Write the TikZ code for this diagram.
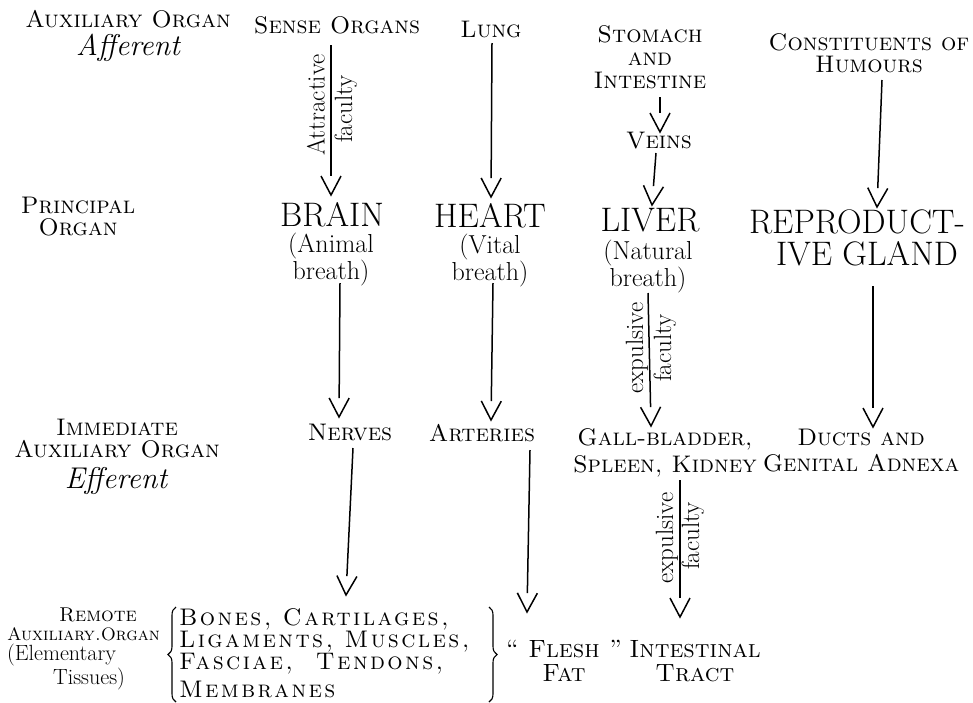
\documentclass[tikz,border=0pt]{standalone}
\usepackage{fontspec}
\newfontfamily\lsfont[LetterSpace=10]{lmromancaps10-regular.otf}
\usetikzlibrary{arrows.meta,decorations.pathreplacing}
\newcommand\fsz[2]{\fontsize{#1}{#2}\selectfont}
\pgfdeclarearrow{
  name=OpenV,
  setup code={
    \pgfarrowssettipend{0pt}
    \pgfarrowssetbackend{-19pt}
    \pgfarrowssetlineend{-19pt}
  },
  drawing code={
    \pgfsetdash{}{0pt}
    \pgfsetmiterjoin
    \pgfpathmoveto{\pgfqpoint{-19pt}{10pt}}
    \pgfpathlineto{\pgfqpoint{0pt}{0pt}}
    \pgfpathlineto{\pgfqpoint{-19pt}{-10pt}}
    \pgfusepathqstroke
  }
}
\tikzset{
  every node/.style={inner sep=0pt, outer sep=0pt},
  sclab/.style={font=\fsz{24}{22}\scshape, anchor=base, align=center},
  scblock/.style={font=\fsz{24}{#1}\scshape, anchor=north, align=center},
  bigl/.style={font=\fsz{34}{30}, anchor=base},
  subl/.style={font=\fsz{26}{21}, anchor=north, align=center},
  itl/.style={font=\fsz{30}{30}\itshape, anchor=base},
  botl/.style={font=\fsz{24}{20.5}\lsfont, anchor=north west, align=left},
  fac/.style={font=\fsz{25}{25}, rotate=90, anchor=center},
  conn/.style={line width=1.5pt, -{OpenV}},
  brc/.style={decorate, decoration={brace, amplitude=8pt}, line width=1.1pt},
}
\begin{document}
\begin{tikzpicture}[x=1pt,y=-1pt]
\useasboundingbox[fill=white] (0,0) rectangle (973,702);
% left column labels
\node[sclab] (auxA) at (128,27) {Auxiliary Organ};
\node[itl] (aff) at (128,55) {Afferent};
\node[scblock=22] (princ) at (78,197) {Principal\\Organ};
\node[scblock=22] (immed) at (117,419) {Immediate\\Auxiliary Organ};
\node[itl] (eff) at (116,488) {Efferent};
\node[font=\fsz{20}{20}\scshape, anchor=base] (remote) at (98,621) {Remote};
\node[font=\fsz{18}{18}\scshape, anchor=base west] (auxC) at (7,640) {Auxiliary.Organ};
\node[font=\fsz{22}{22}, anchor=base west] (elem) at (7,660) {(Elementary};
\node[font=\fsz{22}{22}, anchor=base east] (tiss) at (125,684) {Tissues)};
% top row
\node[sclab] (sense) at (337,33) {Sense Organs};
\node[sclab] (lung) at (491,37) {Lung};
\node[scblock=23] (stom) at (650,25.6) {Stomach\\and\\Intestine};
\node[sclab] (veins) at (659,148) {Veins};
\node[scblock=22] (const) at (869,34) {Constituents of\\Humours};
% principal organs
\node[bigl] (brain) at (332,226) {BRAIN};
\node[subl] (brainsub) at (331,233) {(Animal\\breath)};
\node[bigl] (heart) at (490,227) {HEART};
\node[subl] (heartsub) at (490,234) {(Vital\\breath)};
\node[bigl] (liver) at (650,231) {LIVER};
\node[subl] (liversub) at (648,240) {(Natural\\breath)};
\node[bigl] (repro) at (857,233) {REPRODUCT-};
\node[bigl] (reproB) at (867,265) {IVE GLAND};
% immediate auxiliary organs
\node[sclab] (nerves) at (350,440) {Nerves};
\node[sclab] (arter) at (482,441) {Arteries};
\node[scblock=27] (gall) at (665,428.6) {Gall-bladder,\\Spleen, Kidney};
\node[scblock=26] (ducts) at (861,428.6) {Ducts and\\Genital Adnexa};
% remote
\node[botl] (bones) at (179,609) {Bones, Cartilages,\\Ligaments, Muscles,\\Fasciae,\ \ Tendons,\\[6pt]Membranes};
\node[scblock=24, font=\fsz{25}{24}\scshape] (flesh) at (564,640) {\textquotedblleft\ Flesh \textquotedblright\\Fat};
\node[scblock=24, font=\fsz{25}{24}\scshape] (intest) at (695,640) {Intestinal\\Tract};
% braces
\draw[brc] (176,702) -- (176,607);
\draw[brc] (489,607) -- (489,702);
% faculty labels
\node[fac] (attr) at (316,105) {Attractive};
\node[fac] (facA) at (346,109) {faculty};
\node[fac] (expA) at (637,348) {expulsive};
\node[fac] (facB) at (665,348) {faculty};
\node[fac] (expB) at (667,538) {expulsive};
\node[fac] (facC) at (693,536) {faculty};
% connector end points
\coordinate (c1s) at (331,45);  \coordinate (c1e) at (331,195);
\coordinate (c2s) at (492,43);  \coordinate (c2e) at (491,197);
\coordinate (c3s) at (660,97);  \coordinate (c3e) at (660,132);
\coordinate (c4s) at (656,153); \coordinate (c4e) at (652,205);
\coordinate (c5s) at (882,80);  \coordinate (c5e) at (877,207);
\coordinate (c6s) at (340,283); \coordinate (c6e) at (339,417);
\coordinate (c7s) at (493,283); \coordinate (c7e) at (491,420);
\coordinate (c8s) at (648,293); \coordinate (c8e) at (651,426);
\coordinate (c9s) at (873,286); \coordinate (c9e) at (873,427);
\coordinate (c10s) at (353,448); \coordinate (c10e) at (346,595);
\coordinate (c11s) at (530,450); \coordinate (c11e) at (527,612);
\coordinate (c12s) at (680,480); \coordinate (c12e) at (680,617);
\draw[conn] (c1s) -- (c1e);
\draw[conn] (c2s) -- (c2e);
\draw[conn] (c3s) -- (c3e);
\draw[conn] (c4s) -- (c4e);
\draw[conn] (c5s) -- (c5e);
\draw[conn] (c6s) -- (c6e);
\draw[conn] (c7s) -- (c7e);
\draw[conn] (c8s) -- (c8e);
\draw[conn] (c9s) -- (c9e);
\draw[conn] (c10s) -- (c10e);
\draw[conn] (c11s) -- (c11e);
\draw[conn] (c12s) -- (c12e);
\end{tikzpicture}
\end{document}
